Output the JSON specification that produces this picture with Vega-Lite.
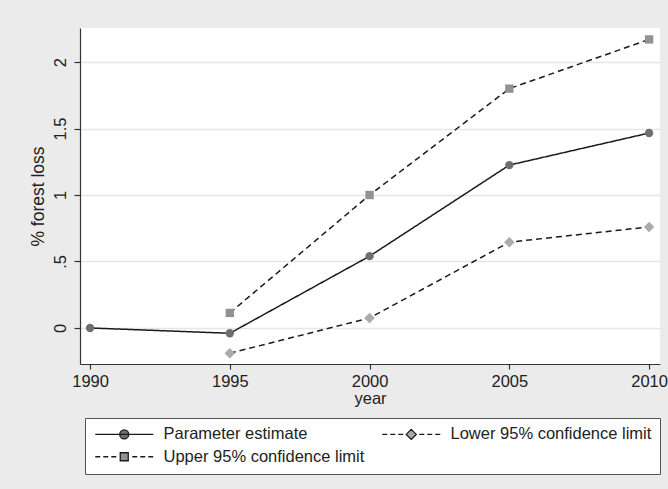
{
  "$schema": "https://vega.github.io/schema/vega-lite/v6.json",
  "width": 580,
  "height": 336,
  "autosize": {"type": "none"},
  "padding": {"left": 80, "top": 28, "right": 8, "bottom": 125},
  "background": "#ebebeb",
  "config": {
    "view": {"fill": "white", "stroke": null},
    "font": "Liberation Sans",
    "legend": {"symbolStrokeColor": "#1a1a1a", "symbolStrokeWidth": 1.3}
  },
  "data": {"values": [
    {"series": "Parameter estimate", "year": 1990, "value": 0},
    {"series": "Parameter estimate", "year": 1995, "value": -0.04},
    {"series": "Parameter estimate", "year": 2000, "value": 0.54},
    {"series": "Parameter estimate", "year": 2005, "value": 1.225},
    {"series": "Parameter estimate", "year": 2010, "value": 1.466},
    {"series": "Upper 95% confidence limit", "year": 1995, "value": 0.113},
    {"series": "Upper 95% confidence limit", "year": 2000, "value": 1.0},
    {"series": "Upper 95% confidence limit", "year": 2005, "value": 1.8},
    {"series": "Upper 95% confidence limit", "year": 2010, "value": 2.17},
    {"series": "Lower 95% confidence limit", "year": 1995, "value": -0.19},
    {"series": "Lower 95% confidence limit", "year": 2000, "value": 0.075},
    {"series": "Lower 95% confidence limit", "year": 2005, "value": 0.645},
    {"series": "Lower 95% confidence limit", "year": 2010, "value": 0.76}
  ]},
  "encoding": {
    "x": {"field": "year", "type": "quantitative", "scale": {"domain": [1989.64, 2010.39], "nice": false, "zero": false},
      "axis": {"values": [1990, 1995, 2000, 2005, 2010], "format": "d", "grid": false, "title": "year",
        "labelFont": "Liberation Sans", "titleFont": "Liberation Sans", "labelFontSize": 16.5, "titleFontSize": 16.5, "titleFontWeight": "normal",
        "labelColor": "#222", "titleColor": "#222", "domainColor": "#333", "tickColor": "#333", "domainWidth": 1.2, "tickWidth": 1.2, "tickSize": 5,
        "labelPadding": 4, "titlePadding": 1}},
    "y": {"field": "value", "type": "quantitative", "scale": {"domain": [-0.271, 2.256], "nice": false, "zero": false},
      "axis": {"values": [0, 0.5, 1, 1.5, 2], "labelExpr": "datum.value == 0.5 ? '.5' : format(datum.value, '~g')",
        "labelFont": "Liberation Sans", "titleFont": "Liberation Sans", "labelFontSize": 16.5, "titleFontSize": 17.5, "titleFontWeight": "normal",
        "labelColor": "#222", "titleColor": "#222", "domainColor": "#333", "tickColor": "#333", "domainWidth": 1.2, "tickWidth": 1.2, "tickSize": 6,
        "labelAngle": -90, "labelAlign": "center", "labelBaseline": "bottom", "labelPadding": 6,
        "grid": true, "gridColor": "#e6e6e6", "gridWidth": 1.5, "title": "% forest loss", "titlePadding": 5}}
  },
  "layer": [
    {
      "mark": {"type": "line", "color": "#1a1a1a", "strokeWidth": 1.5},
      "encoding": {
        "detail": {"field": "series", "type": "nominal"},
        "strokeDash": {"condition": {"test": "datum.series == 'Parameter estimate'", "value": [1, 0]}, "value": [6, 4]}
      }
    },
    {
      "mark": {"type": "point", "filled": true, "opacity": 1},
      "encoding": {
        "color": {"condition": [
          {"test": "datum.series == 'Parameter estimate'", "value": "#6e6e74"},
          {"test": "datum.series == 'Upper 95% confidence limit'", "value": "#929292"}
        ], "value": "#ababab"},
        "size": {"condition": {"test": "datum.series == 'Lower 95% confidence limit'", "value": 110}, "value": 70},
        "shape": {"condition": [
          {"test": "datum.series == 'Parameter estimate'", "value": "circle"},
          {"test": "datum.series == 'Upper 95% confidence limit'", "value": "square"}
        ], "value": "diamond"}
      }
    },
    {
      "transform": [{"filter": "false"}],
      "mark": {"type": "point", "filled": true, "opacity": 1, "strokeWidth": 1.3},
      "encoding": {
        "fill": {"field": "series", "type": "nominal",
          "scale": {"domain": ["Parameter estimate", "Lower 95% confidence limit", "Upper 95% confidence limit"], "range": ["#6e6e74", "#ababab", "#929292"]}},
        "stroke": {"field": "series", "type": "nominal",
          "scale": {"domain": ["Parameter estimate", "Lower 95% confidence limit", "Upper 95% confidence limit"], "range": ["#1a1a1a", "#1a1a1a", "#1a1a1a"]}},
        "shape": {"field": "series", "type": "nominal",
          "scale": {"domain": ["Parameter estimate", "Lower 95% confidence limit", "Upper 95% confidence limit"],
            "range": [
              "M-1,0L8.667,0M3.083,0A0.75,0.75 0 1,0 4.583,0A0.75,0.75 0 1,0 3.083,0Z",
              "M-1,0L-0.167,0M0.333,0L1.167,0M1.667,0L2.5,0M5.167,0L6,0M6.5,0L7.333,0M7.833,0L8.667,0M3.833,-0.833L4.667,0L3.833,0.833L3,0Z",
              "M-1,0L-0.167,0M0.333,0L1.167,0M1.667,0L2.5,0M5.167,0L6,0M6.5,0L7.333,0M7.833,0L8.667,0M3.167,-0.667L4.5,-0.667L4.5,0.667L3.167,0.667Z"
            ]},
          "legend": {
            "title": null, "orient": "none", "legendX": 5, "legendY": 390, "columns": 2, "direction": "horizontal",
            "padding": 8, "strokeColor": "#555", "fillColor": "white",
            "labelFont": "Liberation Sans", "labelFontSize": 16.5, "labelColor": "#222", "labelOffset": 54, "labelLimit": 300,
            "symbolSize": 144, "symbolStrokeWidth": 1.3, "symbolOpacity": 1,
            "columnPadding": 14, "rowPadding": 5.5
          }}
      }
    }
  ]
}
